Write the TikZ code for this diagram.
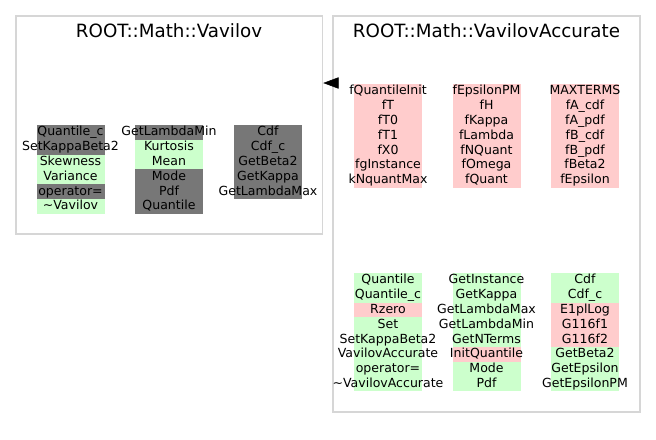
\documentclass[tikz,border=0pt]{standalone}
\usepackage{fontspec}
\setmainfont{DejaVu Sans}
\usetikzlibrary{arrows.meta,fit}
\definecolor{pubgreen}{HTML}{CCFFCC}
\definecolor{privred}{HTML}{FFCCCC}
\definecolor{inhgray}{HTML}{777777}
\definecolor{framegray}{HTML}{D6D6D6}
\newcommand*{\cellfont}{\fontsize{9.4}{11}\selectfont}
\newcommand*{\titlefont}{\fontsize{13.7}{16}\selectfont}

\begin{document}
\begin{tikzpicture}[x=0.75pt, y=-0.75pt,
		member/.style={inner sep=0pt, minimum width=51pt, minimum height=11.1pt,
			text height=7.3pt, text depth=2.2pt, font=\cellfont},
		frame/.style={draw=framegray, line width=1.1pt, inner sep=0pt},
		title/.style={inner sep=0pt, font=\titlefont}]
		\useasboundingbox (0,0) rectangle (656,439);
		
		% the two classes
		\node[frame, fit={(16,16) (322.5,234)}] (vav) {};
		\node[frame, fit={(333,16) (640,412)}] (vacc) {};
		\node[title] (vavtitle) at (169,31) {ROOT::Math::Vavilov};
		\node[title] (vacctitle) at (486.5,31) {ROOT::Math::VavilovAccurate};
		
		% ROOT::Math::Vavilov
		\foreach \txt/\clr [count=\i from 0] in {Quantile\_c/inhgray, SetKappaBeta2/inhgray,
			Skewness/pubgreen, Variance/pubgreen, operator=/inhgray, \textasciitilde Vavilov/pubgreen}
			\node[member, fill=\clr] (vav-a\i) at (70.5,{132.4+14.8*\i}) {\makebox[0pt]{\txt}};
		\foreach \txt/\clr [count=\i from 0] in {GetLambdaMin/inhgray, Kurtosis/pubgreen,
			Mean/pubgreen, Mode/inhgray, Pdf/inhgray, Quantile/inhgray}
			\node[member, fill=\clr] (vav-b\i) at (169,{132.4+14.8*\i}) {\makebox[0pt]{\txt}};
		\foreach \txt [count=\i from 0] in {Cdf, Cdf\_c, GetBeta2, GetKappa, GetLambdaMax}
			\node[member, fill=inhgray] (vav-c\i) at (268,{132.4+14.8*\i}) {\makebox[0pt]{\txt}};
		
		% ROOT::Math::VavilovAccurate, attributes
		\foreach \txt [count=\i from 0] in {fQuantileInit, fT, fT0, fT1, fX0, fgInstance, kNquantMax}
			\node[member, fill=privred] (vacc-a\i) at (388,{91.4+14.8*\i}) {\makebox[0pt]{\txt}};
		\foreach \txt [count=\i from 0] in {fEpsilonPM, fH, fKappa, fLambda, fNQuant, fOmega, fQuant}
			\node[member, fill=privred] (vacc-b\i) at (486.5,{91.4+14.8*\i}) {\makebox[0pt]{\txt}};
		\foreach \txt [count=\i from 0] in {MAXTERMS, fA\_cdf, fA\_pdf, fB\_cdf, fB\_pdf, fBeta2, fEpsilon}
			\node[member, fill=privred] (vacc-c\i) at (585,{91.4+14.8*\i}) {\makebox[0pt]{\txt}};
		
		% ROOT::Math::VavilovAccurate, methods
		\foreach \txt/\clr [count=\i from 0] in {Quantile/pubgreen, Quantile\_c/pubgreen,
			Rzero/privred, Set/pubgreen, SetKappaBeta2/pubgreen, VavilovAccurate/pubgreen,
			operator=/pubgreen, \textasciitilde VavilovAccurate/pubgreen}
			\node[member, fill=\clr] (vacc-d\i) at (388,{280.4+14.8*\i}) {\makebox[0pt]{\txt}};
		\foreach \txt/\clr [count=\i from 0] in {GetInstance/pubgreen, GetKappa/pubgreen,
			GetLambdaMax/pubgreen, GetLambdaMin/pubgreen, GetNTerms/pubgreen,
			InitQuantile/privred, Mode/pubgreen, Pdf/pubgreen}
			\node[member, fill=\clr] (vacc-e\i) at (486.5,{280.4+14.8*\i}) {\makebox[0pt]{\txt}};
		\foreach \txt/\clr [count=\i from 0] in {Cdf/pubgreen, Cdf\_c/pubgreen,
			E1plLog/privred, G116f1/privred, G116f2/privred, GetBeta2/pubgreen,
			GetEpsilon/pubgreen, GetEpsilonPM/pubgreen}
			\node[member, fill=\clr] (vacc-f\i) at (585,{280.4+14.8*\i}) {\makebox[0pt]{\txt}};
		
		% inheritance
		\coordinate (inhbase) at (337,83);
		\draw[-{Triangle[length=11.5pt,width=8.5pt]}] (inhbase) -- (vav.east |- inhbase);
\end{tikzpicture}
\end{document}
